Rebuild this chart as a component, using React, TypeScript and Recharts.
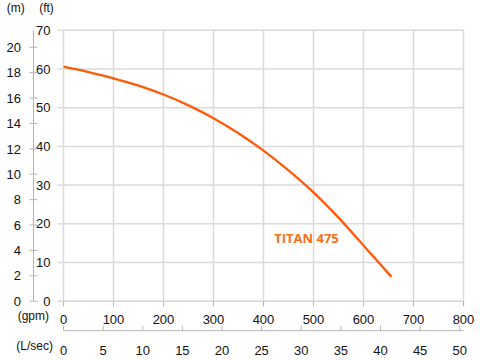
import React from 'react';
import {
  LineChart,
  Line,
  XAxis,
  YAxis,
  CartesianGrid,
  ReferenceDot,
  Label,
} from 'recharts';

// Pump curve TITAN 475: flow (gpm) vs head (ft)
const flowGpm = [0, 50, 100, 150, 200, 250, 300, 350, 400, 450, 500, 550, 600, 656];
const headFt = [60.6, 59.2, 57.6, 55.7, 53.4, 50.6, 47.3, 43.4, 38.9, 33.8, 28.1, 21.6, 14.4, 6.3];

const gpmTicks = [0, 100, 200, 300, 400, 500, 600, 700, 800];
const lsecTicks = [0, 5, 10, 15, 20, 25, 30, 35, 40, 45, 50];
const ftTicks = [0, 10, 20, 30, 40, 50, 60, 70];
const mTicks = [0, 2, 4, 6, 8, 10, 12, 14, 16, 18, 20];

const seriesName = 'TITAN 475';

const GPM_PER_LSEC = 15.850;
const FT_PER_M = 3.2808;

const data = flowGpm.map((g, i) => ({ gpm: g, lsec: g / GPM_PER_LSEC, ft: headFt[i] }));

const FONT = '"Liberation Sans", Arial, sans-serif';
const TICK_FS = 13;
const AXIS_GREY = '#b4b4b4';
const GRID_GREY = '#dadada';

const MTick = (props: any) => {
  const { x, y, payload } = props;
  return (
    <g>
      <line x1={x - 4} x2={x + 4} y1={y} y2={y} stroke={AXIS_GREY} strokeWidth={1} />
      <text x={x - 12.5} y={y} dy="0.36em" textAnchor="end" fontSize={TICK_FS} fontFamily={FONT} fill="#111">
        {payload.value}
      </text>
    </g>
  );
};

const LsecTick = (props: any) => {
  const { x, y, payload } = props;
  return (
    <g>
      <line x1={x} x2={x} y1={y - 5} y2={y} stroke={AXIS_GREY} strokeWidth={1} />
      <text x={x} y={y + 19.5} dy="0.36em" textAnchor="middle" fontSize={TICK_FS} fontFamily={FONT} fill="#111">
        {payload.value}
      </text>
    </g>
  );
};

export default function App() {
  return (
    <div style={{ position: 'absolute', left: 0, top: 0, width: 480, height: 360, background: '#fff' }}>
      <LineChart
        width={480}
        height={360}
        data={data}
        margin={{ top: 30.3, right: 16.5, left: 0, bottom: 0 }}
      >
        <CartesianGrid xAxisId="gpm" yAxisId="ft" stroke={GRID_GREY} strokeWidth={1.5} />
        <XAxis
          xAxisId="gpm"
          dataKey="gpm"
          type="number"
          domain={[0, 800]}
          ticks={gpmTicks}
          height={29.5}
          axisLine={{ stroke: GRID_GREY, strokeWidth: 1.5 }}
          tickLine={{ stroke: AXIS_GREY }}
          tickSize={5}
          tickMargin={9}
          tick={{ fontSize: TICK_FS, fontFamily: FONT, fill: '#111' }}
          interval={0}
        >
          <Label value="(gpm)" position="left" offset={14.5} fontSize={12} fontFamily={FONT} fill="#111" />
        </XAxis>
        <XAxis
          xAxisId="lsec"
          dataKey="lsec"
          type="number"
          domain={[0, 800 / GPM_PER_LSEC]}
          allowDataOverflow
          ticks={lsecTicks}
          height={29.3}
          axisLine={{ stroke: AXIS_GREY }}
          tickLine={false}
          tickSize={0}
          tickMargin={0}
          tick={<LsecTick />}
          interval={0}
        >
          <Label value="(L/sec)" position="left" offset={10.5} fontSize={12} fontFamily={FONT} fill="#111" />
        </XAxis>
        <YAxis
          yAxisId="ft"
          type="number"
          domain={[0, 70]}
          ticks={ftTicks}
          width={30}
          axisLine={false}
          tickLine={{ stroke: GRID_GREY, strokeWidth: 1.5 }}
          tickSize={6}
          tickMargin={7}
          tick={{ fontSize: TICK_FS, fontFamily: FONT, fill: '#111' }}
          interval={0}
        >
          <Label value="(ft)" position="top" offset={18.8} fontSize={12} fontFamily={FONT} fill="#111" dx={-2} />
        </YAxis>
        <YAxis
          yAxisId="m"
          type="number"
          domain={[0, 70 / FT_PER_M]}
          allowDataOverflow
          ticks={mTicks}
          width={33.5}
          axisLine={{ stroke: AXIS_GREY }}
          tickLine={false}
          tickSize={0}
          tickMargin={0}
          tick={<MTick />}
          interval={0}
        >
          <Label value="(m)" position="top" offset={18.8} fontSize={12} fontFamily={FONT} fill="#111" dx={-1} />
        </YAxis>
        <Line
          xAxisId="gpm"
          yAxisId="ft"
          dataKey="ft"
          type="monotone"
          stroke="#ff5a0a"
          strokeWidth={2.3}
          dot={false}
          isAnimationActive={false}
        />
        <ReferenceDot
          xAxisId="gpm"
          yAxisId="ft"
          x={486}
          y={16.3}
          r={0}
          fill="none"
          stroke="none"
          label={{
            value: seriesName,
            position: 'center',
            fill: '#f7701a',
            fontSize: 13,
            fontWeight: 'bold',
            fontFamily: '"Open Sans", sans-serif',
          }}
        />
      </LineChart>
    </div>
  );
}
